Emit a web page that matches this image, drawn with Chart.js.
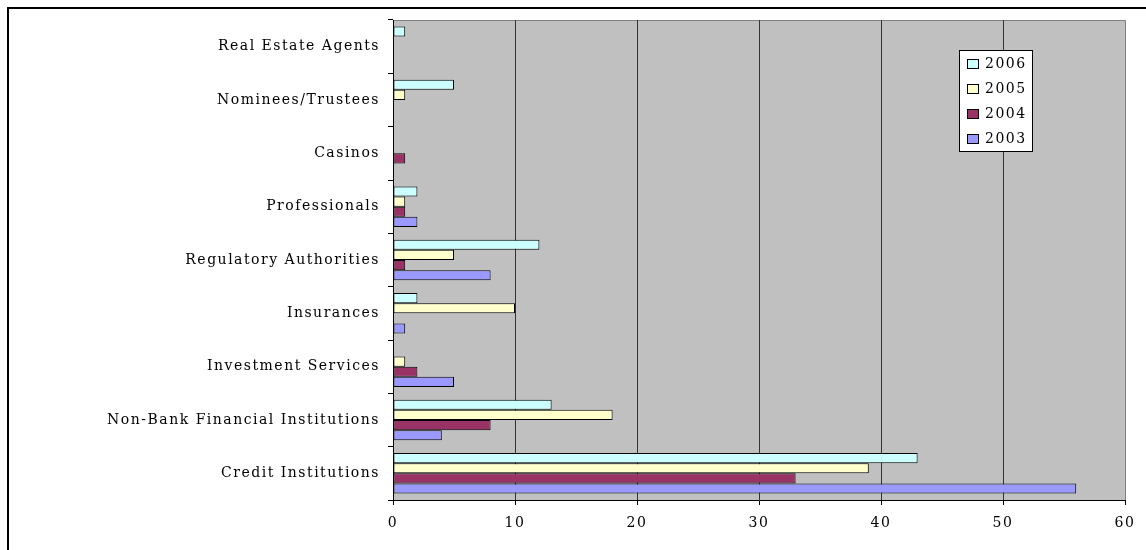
<!DOCTYPE html>
<html>
<head>
<meta charset="utf-8">
<script src="https://cdn.jsdelivr.net/npm/chart.js@4"></script>
<style>
  body { margin: 0; background: #fff; }
  #wrap { position: relative; width: 1146px; height: 550px; }
</style>
</head>
<body>
<div id="wrap"><canvas id="chart" width="1146" height="550"></canvas></div>
<script>
const categories = [
    'Real Estate Agents', 'Nominees/Trustees', 'Casinos', 'Professionals',
    'Regulatory Authorities', 'Insurances', 'Investment Services',
    'Non-Bank Financial Institutions', 'Credit Institutions'
];
const seriesLabels = ['2006', '2005', '2004', '2003'];
const values2006 = [1, 5, 0, 2, 12, 2, 0, 13, 43];
const values2005 = [0, 1, 0, 1, 5, 10, 1, 18, 39];
const values2004 = [0, 0, 1, 1, 1, 0, 2, 8, 33];
const values2003 = [0, 0, 0, 2, 8, 1, 5, 4, 56];
const xTicks = [0, 10, 20, 30, 40, 50, 60];

const colors = ['#CCFFFF', '#FFFFCC', '#993366', '#9999FF'];
const font = { family: '"DejaVu Serif", serif', size: 14 };
const spacing = '1.5px';

// gray plot background + outer frame; also widen the lettering a bit
const backdrop = {
    id: 'backdrop',
    beforeDraw(chart) {
        const { ctx, chartArea: a } = chart;
        ctx.letterSpacing = spacing;
        ctx.save();
        ctx.fillStyle = '#C0C0C0';
        ctx.fillRect(a.left, a.top, a.right - a.left, a.bottom - a.top);
        ctx.strokeStyle = '#808080';
        ctx.lineWidth = 1;
        ctx.beginPath();
        ctx.moveTo(a.left, a.top + 0.5);
        ctx.lineTo(a.right + 0.5, a.top + 0.5);
        ctx.lineTo(a.right + 0.5, a.bottom);
        ctx.stroke();
        ctx.strokeStyle = '#000';
        ctx.lineWidth = 2;
        ctx.beginPath();
        ctx.moveTo(8, 560);
        ctx.lineTo(8, 8);
        ctx.lineTo(1160, 8);
        ctx.stroke();
        ctx.restore();
    }
};

// boxed legend inside the plot
const boxLegend = {
    id: 'boxLegend',
    afterDraw(chart) {
        const { ctx } = chart;
        const x = 959, y = 50, w = 73, h = 101;
        ctx.save();
        ctx.letterSpacing = spacing;
        ctx.fillStyle = '#fff';
        ctx.fillRect(x, y, w, h);
        ctx.strokeStyle = '#000';
        ctx.lineWidth = 1;
        ctx.strokeRect(x + 0.5, y + 0.5, w, h);
        ctx.font = '14px "DejaVu Serif", serif';
        ctx.textBaseline = 'middle';
        chart.data.datasets.forEach((ds, i) => {
            const cy = y + 13 + i * 25;
            ctx.fillStyle = ds.backgroundColor;
            ctx.fillRect(x + 8, cy - 4, 11, 9);
            ctx.strokeRect(x + 8.5, cy - 3.5, 11, 9);
            ctx.fillStyle = '#000';
            ctx.fillText(ds.label, x + 26, cy + 1);
        });
        ctx.restore();
    }
};

const seriesValues = [values2006, values2005, values2004, values2003];

new Chart(document.getElementById('chart'), {
    type: 'bar',
    data: {
        labels: categories,
        datasets: seriesLabels.map((label, i) => ({
            label: label,
            data: seriesValues[i],
            backgroundColor: colors[i],
            borderColor: '#000',
            borderWidth: 1,
            borderSkipped: false,
            categoryPercentage: 0.76,
            barPercentage: 1
        }))
    },
    options: {
        indexAxis: 'y',
        responsive: false,
        animation: false,
        layout: { padding: { top: 20, right: 21, left: 0, bottom: 0 } },
        plugins: {
            legend: { display: false },
            tooltip: { enabled: false }
        },
        scales: {
            x: {
                min: 0,
                max: 60,
                afterBuildTicks(scale) { scale.ticks = xTicks.map(v => ({ value: v })); },
                afterFit(scale) { scale.height = 50; },
                ticks: { color: '#000', font: font, padding: 10 },
                grid: {
                    color: c => (c.tick && c.tick.value === 60 ? 'rgba(0,0,0,0)' : '#333'),
                    tickColor: '#000',
                    tickLength: 5
                },
                border: { color: '#000', width: 1 }
            },
            y: {
                afterFit(scale) { scale.width = 393; },
                ticks: { color: '#000', font: font, padding: 8 },
                grid: {
                    offset: true,
                    drawOnChartArea: false,
                    color: '#000',
                    tickLength: 5
                },
                border: { color: '#000', width: 1 }
            }
        }
    },
    plugins: [backdrop, boxLegend]
});
</script>
</body>
</html>
